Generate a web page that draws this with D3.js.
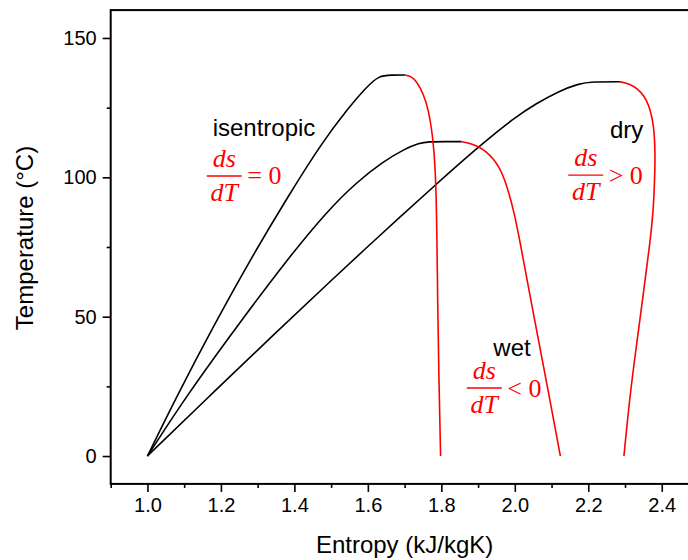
<!DOCTYPE html>
<html>
<head>
<meta charset="utf-8">
<script src="https://cdn.jsdelivr.net/npm/d3@7"></script>
<style>
  html, body { margin: 0; padding: 0; background: #fff; }
  svg { display: block; }
  text { font-family: "Liberation Sans", Arial, sans-serif; }
  .math { font-family: "Liberation Serif", "Times New Roman", serif; }
</style>
</head>
<body>
<svg id="chart" width="688" height="560"></svg>
<script>
// ---------------- data (entropy s in kJ/kgK, temperature T in °C) ----------------
const isentropicS   = [1.000, 1.084, 1.179, 1.279, 1.388, 1.474, 1.542, 1.597, 1.630, 1.665, 1.701];
const isentropicT   = [0, 22.5, 46.4, 70.3, 94.3, 112.2, 124.1, 132.5, 136.5, 136.7, 136.7];
const isentropicVapS = [1.701, 1.718, 1.733, 1.751, 1.765, 1.774, 1.780, 1.785, 1.788, 1.790, 1.793, 1.798];
const isentropicVapT = [136.7, 136.3, 134.3, 130.1, 124.1, 117.0, 109.8, 99.0, 80.0, 55.0, 30.0, 0];

const wetS    = [1.000, 1.111, 1.243, 1.379, 1.490, 1.570, 1.640, 1.700, 1.740, 1.765, 1.810, 1.855];
const wetT    = [0, 22.5, 46.4, 70.3, 88.0, 98.3, 105.5, 110.2, 112.3, 112.8, 112.8, 112.8];
const wetVapS = [1.855, 1.878, 1.900, 1.922, 1.941, 1.957, 1.971, 1.984, 1.998, 2.015, 2.040, 2.066, 2.092, 2.124];
const wetVapT = [112.8, 112.2, 111.1, 109.3, 106.7, 103.7, 99.7, 94.4, 87.5, 76.4, 58.5, 40.5, 22.6, 0];

const dryS    = [1.000, 1.175, 1.343, 1.500, 1.633, 1.778, 1.905, 2.000, 2.060, 2.120, 2.173, 2.210, 2.286];
const dryT    = [0, 22.3, 43.5, 63.0, 79.2, 96.6, 111.4, 121.5, 126.6, 130.9, 133.6, 134.3, 134.3];
const dryVapS = [2.286, 2.314, 2.335, 2.352, 2.364, 2.372, 2.378, 2.381, 2.382, 2.380, 2.377, 2.368, 2.350, 2.332, 2.314, 2.297];
const dryVapT = [134.3, 133.5, 131.7, 129.2, 126.0, 122.4, 118.0, 112.7, 106.2, 97.2, 88.3, 76.4, 58.5, 40.5, 22.6, 0];

const xTicks = [1.0, 1.2, 1.4, 1.6, 1.8, 2.0, 2.2, 2.4];
const xMinorTicks = [0.9, 1.1, 1.3, 1.5, 1.7, 1.9, 2.1, 2.3, 2.5];
const yTicks = [0, 50, 100, 150];
const yMinorTicks = [25, 75, 125];

const xTitle = "Entropy (kJ/kgK)";
const yTitle = "Temperature (°C)";
const fluidNames = ["isentropic", "wet", "dry"];
const slopeOps = ["= 0", "< 0", "> 0"];

// ---------------- layout ----------------
const svg = d3.select("#chart");
const plot = { left: 110.7, right: 698.5, top: 10.1, bottom: 483.9 };
const x = d3.scaleLinear().domain([0.9, 2.5]).range([plot.left, plot.right]);
const y = d3.scaleLinear().domain([-10, 160]).range([plot.bottom, plot.top]);

const zip = (a, b) => a.map((v, i) => [v, b[i]]);

// frame
svg.append("rect")
  .attr("x", plot.left).attr("y", plot.top)
  .attr("width", plot.right - plot.left).attr("height", plot.bottom - plot.top)
  .attr("fill", "none").attr("stroke", "#000").attr("stroke-width", 2);

// axes
const xAxis = d3.axisBottom(x).tickValues(xTicks).tickFormat(d3.format(".1f"))
  .tickSizeInner(8).tickSizeOuter(0).tickPadding(6);
const gx = svg.append("g").attr("transform", `translate(0,${plot.bottom})`).call(xAxis);
const xMinor = d3.axisBottom(x).tickValues(xMinorTicks).tickFormat("").tickSizeInner(4).tickSizeOuter(0);
const gxm = svg.append("g").attr("transform", `translate(0,${plot.bottom})`).call(xMinor);

const yAxis = d3.axisLeft(y).tickValues(yTicks).tickFormat(d3.format("d"))
  .tickSizeInner(8).tickSizeOuter(0).tickPadding(6);
const gy = svg.append("g").attr("transform", `translate(${plot.left},0)`).call(yAxis);
const yMinor = d3.axisLeft(y).tickValues(yMinorTicks).tickFormat("").tickSizeInner(4).tickSizeOuter(0);
const gym = svg.append("g").attr("transform", `translate(${plot.left},0)`).call(yMinor);

[gx, gxm, gy, gym].forEach(g => {
  g.select(".domain").remove();
  g.selectAll(".tick line").attr("stroke", "#000").attr("stroke-width", 1.6);
  g.selectAll(".tick text").attr("fill", "#000")
    .style("font-family", '"Liberation Sans", Arial, sans-serif').style("font-size", "20px");
});
gx.selectAll(".tick text").attr("dy", "0.72em");

// axis titles
svg.append("text").attr("x", (plot.left + plot.right) / 2).attr("y", 553)
  .attr("text-anchor", "middle").style("font-size", "24px").text(xTitle);
svg.append("text").attr("transform", `translate(33,238) rotate(-90)`)
  .attr("text-anchor", "middle").style("font-size", "24px").text(yTitle);

// curves
const smoothLine = d3.line().x(d => x(d[0])).y(d => y(d[1])).curve(d3.curveBasis);

const liquids = [zip(isentropicS, isentropicT), zip(wetS, wetT), zip(dryS, dryT)];
const vapours = [zip(isentropicVapS, isentropicVapT), zip(wetVapS, wetVapT), zip(dryVapS, dryVapT)];

svg.append("clipPath").attr("id", "clip").append("rect")
  .attr("x", plot.left).attr("y", plot.top)
  .attr("width", plot.right - plot.left).attr("height", plot.bottom - plot.top);
const gc = svg.append("g").attr("clip-path", "url(#clip)");

liquids.forEach(pts => gc.append("path").attr("d", smoothLine(pts))
  .attr("fill", "none").attr("stroke", "#000").attr("stroke-width", 1.6));
vapours.forEach(pts => gc.append("path").attr("d", smoothLine(pts))
  .attr("fill", "none").attr("stroke", "#ff0000").attr("stroke-width", 1.6));

// annotations (data coordinates)
const nameAnchors = [[1.1775, 114.8], [1.9415, 35.8], [2.259, 114.0]];
const fracAnchors = [[1.209, 100.5], [1.917, 24.4], [2.193, 100.8]];

fluidNames.forEach((name, i) => {
  svg.append("text").attr("x", x(nameAnchors[i][0])).attr("y", y(nameAnchors[i][1]))
    .style("font-size", "24px").attr("fill", "#000").text(name);

  const cx = x(fracAnchors[i][0]), by = y(fracAnchors[i][1]);
  const g = svg.append("g").attr("fill", "#ff0000");
  g.append("text").attr("class", "math").attr("x", cx).attr("y", by - 9)
    .attr("text-anchor", "middle").style("font-size", "26px").style("font-style", "italic").text("ds");
  g.append("line").attr("x1", cx - 17.5).attr("x2", cx + 17.5).attr("y1", by).attr("y2", by)
    .attr("stroke", "#ff0000").attr("stroke-width", 1.4);
  g.append("text").attr("class", "math").attr("x", cx).attr("y", by + 25)
    .attr("text-anchor", "middle").style("font-size", "26px").style("font-style", "italic").text("dT");
  g.append("text").attr("class", "math").attr("x", cx + 23).attr("y", by + 8.5)
    .style("font-size", "26px").text(slopeOps[i]);
});
</script>
</body>
</html>
